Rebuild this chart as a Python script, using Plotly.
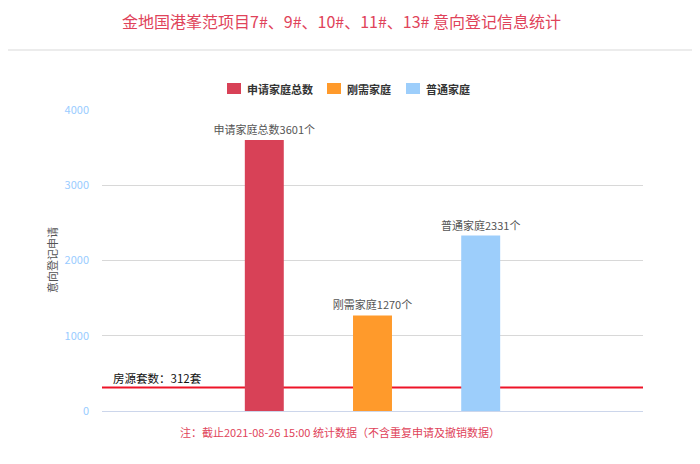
import plotly.graph_objects as go

categories = [0, 1, 2, 3, 4]
series_names = ["申请家庭总数", "刚需家庭", "普通家庭"]
series_x = [1, 2, 3]
series_values = [3601, 1270, 2331]
series_colors = ["#d84157", "#ff9a2b", "#9dcefb"]
housing_units = 312
y_ticks = [0, 1000, 2000, 3000, 4000]

FONT = "Noto Sans CJK SC"

# page-pixel -> paper coordinate helpers (plot area spans x 102..643, y 110..411)
def px(X):
    return (X - 102) / 541


def py(Y):
    return (411 - Y) / 301


fig = go.Figure()
for name, x, v, c in zip(series_names, series_x, series_values, series_colors):
    fig.add_trace(go.Bar(
        x=[x], y=[v], name=name, width=0.36,
        marker=dict(color=c, line=dict(width=0)),
        text=[f"{name}{v}个"], textposition="outside", constraintext="none",
        textfont=dict(color="#555555", size=11, family=FONT),
        cliponaxis=False, showlegend=False,
    ))

# manual legend
legend_marker_x = [227, 327, 406]
for name, c, mx in zip(series_names, series_colors, legend_marker_x):
    fig.add_shape(type="rect", xref="paper", yref="paper",
                  x0=px(mx), x1=px(mx + 14), y0=py(94), y1=py(83),
                  fillcolor=c, line=dict(width=0))
    fig.add_annotation(xref="paper", yref="paper", x=px(mx + 18), y=py(88.5),
                       text=f"<b>{name}</b>", showarrow=False, xanchor="left",
                       yanchor="middle",
                       font=dict(color="#333333", size=11, family=FONT))

fig.add_shape(type="line", xref="paper", yref="y", x0=0, x1=1,
              y0=housing_units, y1=housing_units,
              line=dict(color="#ee1428", width=2), layer="below")
fig.add_annotation(xref="paper", yref="y", x=px(111), y=housing_units,
                   text=f"房源套数：{housing_units}套", showarrow=False,
                   xanchor="left", yanchor="bottom", yshift=0,
                   font=dict(color="#111111", size=11.5, family=FONT))

# header separator and corner badge
fig.add_shape(type="line", xref="paper", yref="paper", x0=px(0), x1=px(693),
              y0=py(50), y1=py(50),
              line=dict(color="#e6e6e6", width=1.5))
fig.add_shape(type="circle", xref="paper", yref="paper",
              x0=px(693), x1=px(733), y0=py(17), y1=py(-23),
              fillcolor="#e0435a", line=dict(width=0))

fig.add_annotation(xref="paper", yref="paper", x=px(341), y=py(21),
                   text="金地国港峯范项目7#、9#、10#、11#、13# 意向登记信息统计",
                   showarrow=False, xanchor="center", yanchor="middle",
                   font=dict(color="#e0435a", size=16, family=FONT))
fig.add_annotation(xref="paper", yref="paper", x=px(340), y=py(432),
                   text="注：截止2021-08-26 15:00 统计数据（不含重复申请及撤销数据）",
                   showarrow=False, xanchor="center", yanchor="middle",
                   font=dict(color="#e0435a", size=11, family=FONT))
fig.add_annotation(xref="paper", yref="paper", x=px(52), y=py(260),
                   text="意向登记申请", textangle=-90, showarrow=False,
                   xanchor="center", yanchor="middle",
                   font=dict(color="#555555", size=11, family=FONT))

fig.update_layout(
    width=692, height=456,
    margin=dict(l=94, r=57, t=102, b=53),
    paper_bgcolor="white", plot_bgcolor="white",
    barmode="overlay",
    showlegend=False,
    xaxis=dict(range=[-0.5, 4.5], tickvals=categories, showticklabels=False,
               showgrid=False, zeroline=False, showline=True,
               linecolor="#ccd6eb", linewidth=1),
    yaxis=dict(range=[0, 4000], tickvals=y_ticks, showgrid=True,
               gridcolor="#d8d8d8", gridwidth=1, zeroline=False,
               tickfont=dict(color="#99ccff", size=11, family=FONT),
               ticklabelstandoff=12),
    font=dict(family=FONT),
)

fig.write_html("out.html")
